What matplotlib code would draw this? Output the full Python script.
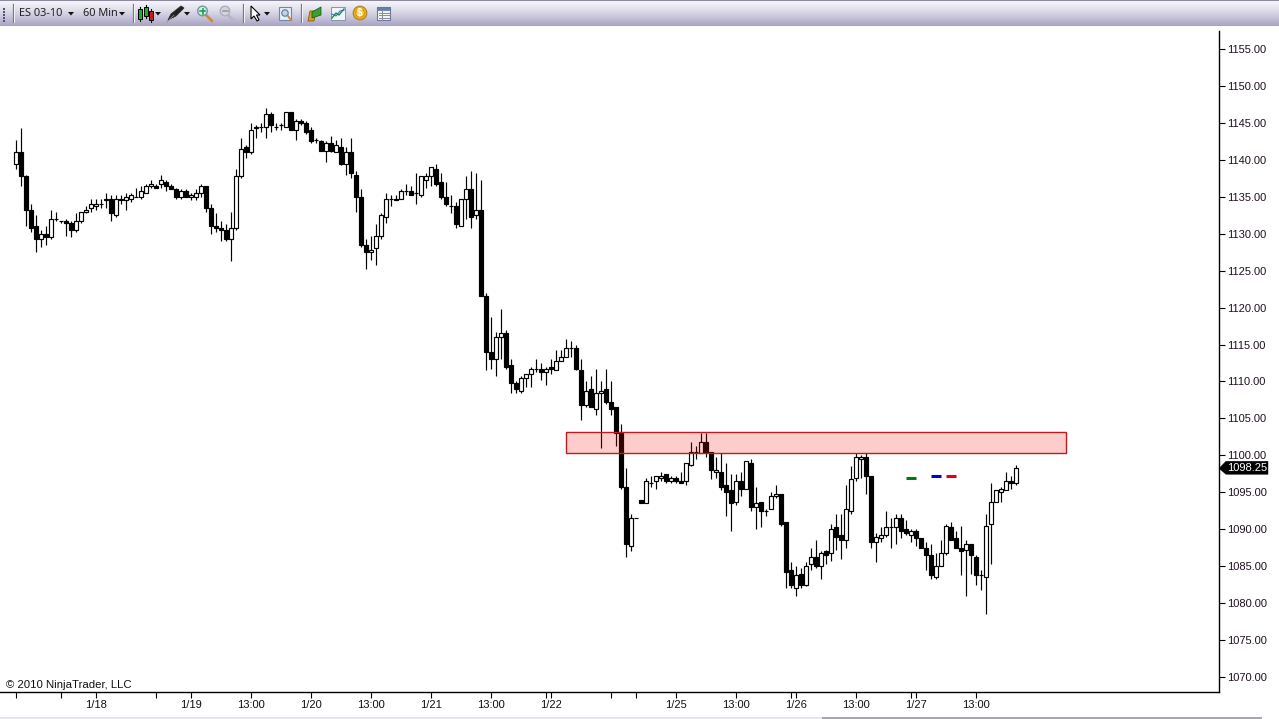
import matplotlib
matplotlib.use("Agg")
import matplotlib.pyplot as plt
import numpy as np
from matplotlib.patches import Rectangle, Polygon, Circle

plt.rcParams['font.family'] = ['Liberation Sans', 'DejaVu Sans']

opens = [
    1139.5, 1141.0, 1137.75, 1133.25, 1131.0, 1129.25, 1130.0, 1129.5, 1132.0, 1131.75,
    1131.75, 1131.5, 1130.5, 1131.75, 1133.0, 1133.5, 1133.75, 1134.0, 1134.5, 1134.75,
    1132.5, 1134.75, 1134.5, 1134.75, 1135.0, 1135.0, 1135.5, 1136.5, 1136.5, 1136.75,
    1137.0, 1136.5, 1136.0, 1135.0, 1135.75, 1135.0, 1135.0, 1135.5, 1136.5, 1133.5,
    1131.0, 1130.75, 1130.5, 1129.25, 1130.75, 1137.75, 1141.75, 1141.0, 1144.25, 1144.5,
    1144.5, 1146.25, 1144.5, 1144.75, 1144.5, 1146.5, 1144.0, 1145.25, 1145.0, 1144.0,
    1142.75, 1142.5, 1141.25, 1142.25, 1141.0, 1141.75, 1139.5, 1141.0, 1138.0, 1135.0,
    1128.5, 1127.5, 1128.0, 1129.75, 1132.25, 1134.75, 1134.75, 1134.75, 1135.75, 1135.75,
    1135.5, 1135.25, 1137.25, 1137.75, 1138.75, 1137.0, 1135.0, 1133.75, 1133.75, 1131.0,
    1134.75, 1136.0, 1132.5, 1133.25, 1121.5, 1114.0, 1113.0, 1116.0, 1116.5, 1112.25,
    1109.75, 1108.75, 1110.5, 1111.0, 1111.75, 1111.75, 1111.25, 1112.0, 1111.5, 1112.75,
    1113.25, 1114.5, 1114.5, 1111.5, 1106.75, 1109.0, 1106.25, 1108.5, 1109.0, 1107.25,
    1106.5, 1103.0, 1095.75, 1087.75, 1091.5, 1094.0, 1093.5, 1096.25, 1096.5, 1097.0,
    1097.5, 1096.5, 1097.0, 1096.5, 1096.5, 1098.75, 1100.5, 1100.25, 1101.75, 1100.5,
    1097.75, 1097.75, 1096.0, 1095.25, 1093.75, 1096.5, 1095.5, 1099.0, 1093.0, 1093.75,
    1092.5, 1092.75, 1094.5, 1094.75, 1091.0, 1084.5, 1082.0, 1084.0, 1082.5, 1085.25,
    1086.25, 1085.0, 1087.0, 1086.75, 1090.25, 1089.25, 1088.5, 1092.5, 1097.0, 1099.5,
    1099.75, 1097.25, 1088.25, 1088.75, 1089.25, 1090.25, 1090.25, 1091.5, 1090.0, 1089.25,
    1089.75, 1088.75, 1087.5, 1086.5, 1083.5, 1085.0, 1086.75, 1090.25, 1088.75, 1087.5,
    1087.25, 1088.0, 1086.25, 1083.75, 1083.5, 1090.75, 1093.75, 1095.0, 1095.25, 1096.5, 1096.25,
]
highs = [
    1142.75, 1144.25, 1138.0, 1134.0, 1132.5, 1130.5, 1131.0, 1133.25, 1133.0, 1131.75,
    1132.0, 1131.75, 1132.75, 1133.0, 1133.75, 1134.75, 1134.75, 1134.75, 1135.5, 1135.25,
    1135.25, 1135.25, 1135.5, 1135.5, 1136.25, 1136.5, 1136.75, 1137.25, 1136.75, 1138.0,
    1137.25, 1136.75, 1136.25, 1136.0, 1136.0, 1135.5, 1136.0, 1136.75, 1136.5, 1134.0,
    1132.75, 1131.75, 1131.25, 1133.0, 1138.75, 1143.0, 1142.0, 1145.0, 1144.75, 1145.0,
    1147.0, 1146.5, 1145.0, 1145.0, 1146.5, 1146.5, 1145.5, 1145.5, 1145.25, 1144.5,
    1143.0, 1142.75, 1142.5, 1143.25, 1142.75, 1143.0, 1141.75, 1143.0, 1138.5, 1136.0,
    1129.25, 1129.75, 1131.25, 1132.75, 1135.5, 1135.25, 1135.25, 1136.0, 1136.75, 1136.5,
    1138.25, 1137.75, 1138.25, 1139.0, 1139.5, 1138.25, 1137.0, 1135.25, 1134.25, 1134.75,
    1137.75, 1138.5, 1138.25, 1137.25, 1122.0, 1118.75, 1116.75, 1119.75, 1117.0, 1113.0,
    1110.0, 1110.75, 1111.0, 1112.0, 1113.0, 1112.5, 1112.0, 1113.0, 1114.25, 1114.25,
    1115.75, 1115.5, 1115.0, 1113.0, 1110.0, 1110.75, 1111.75, 1110.0, 1111.75, 1110.0,
    1106.5, 1104.25, 1098.25, 1092.0, 1091.5, 1094.0, 1097.0, 1097.25, 1097.25, 1097.75,
    1097.5, 1097.25, 1097.25, 1097.75, 1099.0, 1101.75, 1101.25, 1103.0, 1103.0, 1100.5,
    1099.75, 1100.25, 1099.0, 1097.5, 1097.5, 1097.75, 1099.25, 1099.5, 1095.75, 1093.75,
    1092.75, 1095.0, 1096.0, 1094.75, 1091.0, 1085.5, 1085.0, 1084.75, 1085.5, 1087.5,
    1088.5, 1087.0, 1087.25, 1090.75, 1092.0, 1092.0, 1096.0, 1098.5, 1100.25, 1100.0,
    1100.25, 1097.25, 1089.5, 1090.25, 1092.5, 1091.5, 1092.0, 1092.0, 1091.25, 1090.0,
    1090.0, 1088.75, 1088.25, 1088.0, 1086.75, 1088.5, 1090.75, 1091.0, 1089.75, 1090.5,
    1088.5, 1088.0, 1086.5, 1084.5, 1092.0, 1096.25, 1095.25, 1095.75, 1097.75, 1097.25, 1098.75,
]
lows = [
    1138.75, 1136.5, 1131.0, 1130.25, 1127.5, 1128.25, 1128.5, 1129.25, 1131.75, 1131.5,
    1129.75, 1129.5, 1130.25, 1131.5, 1132.75, 1133.0, 1133.25, 1133.5, 1133.5, 1131.75,
    1132.25, 1134.0, 1133.25, 1134.25, 1135.0, 1134.75, 1135.5, 1136.25, 1136.25, 1136.25,
    1135.75, 1136.0, 1134.75, 1134.75, 1135.0, 1134.5, 1134.5, 1135.0, 1133.0, 1130.0,
    1130.25, 1129.0, 1129.0, 1126.25, 1130.5, 1137.5, 1140.25, 1140.75, 1143.0, 1143.75,
    1143.0, 1143.75, 1144.0, 1144.0, 1144.5, 1144.0, 1142.75, 1144.75, 1143.5, 1142.25,
    1142.25, 1141.25, 1139.75, 1141.0, 1141.0, 1139.25, 1138.0, 1137.5, 1133.0, 1128.25,
    1125.25, 1126.5, 1125.75, 1129.25, 1131.5, 1133.75, 1134.5, 1134.75, 1135.25, 1135.25,
    1134.0, 1135.0, 1136.25, 1136.5, 1136.5, 1134.75, 1133.75, 1132.75, 1130.75, 1131.0,
    1132.0, 1130.75, 1132.0, 1121.5, 1111.5, 1111.75, 1110.75, 1113.0, 1111.75, 1108.5,
    1108.5, 1108.5, 1109.25, 1109.25, 1111.25, 1110.25, 1109.5, 1111.0, 1111.5, 1112.75,
    1113.25, 1113.25, 1111.5, 1104.75, 1106.5, 1106.5, 1105.5, 1101.0, 1107.0, 1105.5,
    1101.25, 1095.5, 1086.25, 1087.0, 1091.5, 1093.5, 1093.5, 1095.75, 1095.5, 1096.5,
    1096.25, 1096.25, 1096.25, 1096.25, 1096.0, 1098.5, 1099.5, 1100.25, 1099.75, 1096.75,
    1097.0, 1095.25, 1091.75, 1089.75, 1093.25, 1094.5, 1095.5, 1092.5, 1090.0, 1090.25,
    1091.75, 1092.75, 1094.25, 1090.5, 1082.0, 1082.0, 1081.0, 1082.0, 1082.25, 1084.5,
    1084.75, 1083.25, 1085.25, 1085.75, 1087.25, 1086.0, 1087.5, 1092.0, 1096.5, 1097.0,
    1094.75, 1087.5, 1085.5, 1088.25, 1089.0, 1087.5, 1088.0, 1088.75, 1089.25, 1088.25,
    1087.75, 1087.5, 1084.5, 1083.25, 1083.25, 1085.0, 1086.5, 1088.5, 1087.5, 1083.75,
    1081.0, 1084.0, 1082.5, 1081.75, 1078.5, 1085.25, 1093.75, 1093.75, 1095.25, 1095.5, 1096.0,
]
closes = [
    1141.0, 1137.75, 1133.25, 1130.75, 1129.25, 1130.0, 1129.5, 1132.0, 1132.0, 1131.75,
    1131.5, 1130.5, 1131.75, 1133.0, 1133.25, 1134.0, 1134.0, 1134.0, 1134.75, 1132.75,
    1134.75, 1134.5, 1135.0, 1135.25, 1135.0, 1135.75, 1136.5, 1136.75, 1136.25, 1137.25,
    1136.5, 1136.0, 1135.0, 1135.75, 1135.0, 1135.25, 1135.5, 1136.5, 1133.5, 1131.0,
    1130.75, 1130.5, 1129.25, 1130.75, 1137.75, 1141.5, 1141.0, 1144.0, 1144.5, 1144.5,
    1146.25, 1144.75, 1144.5, 1144.75, 1146.5, 1144.0, 1145.25, 1145.0, 1143.75, 1142.5,
    1142.75, 1141.25, 1142.25, 1141.25, 1142.0, 1139.5, 1141.0, 1138.25, 1135.0, 1128.5,
    1127.5, 1127.75, 1129.75, 1132.5, 1134.75, 1134.75, 1134.5, 1135.75, 1135.75, 1135.25,
    1135.5, 1137.75, 1137.75, 1139.0, 1136.75, 1135.0, 1134.0, 1133.75, 1131.25, 1134.75,
    1136.0, 1132.25, 1133.25, 1121.5, 1114.0, 1113.0, 1116.0, 1116.5, 1112.0, 1109.75,
    1109.0, 1110.5, 1111.0, 1111.75, 1111.75, 1111.25, 1111.75, 1111.75, 1112.75, 1113.25,
    1114.5, 1114.5, 1111.75, 1106.75, 1108.75, 1106.5, 1108.5, 1108.75, 1107.25, 1106.25,
    1103.0, 1095.75, 1088.0, 1091.5, 1091.5, 1093.5, 1096.5, 1096.25, 1097.25, 1097.25,
    1096.5, 1097.0, 1096.5, 1096.25, 1099.0, 1100.5, 1100.5, 1101.75, 1100.5, 1098.0,
    1098.0, 1095.75, 1095.0, 1093.5, 1096.5, 1095.5, 1099.25, 1093.0, 1093.5, 1092.5,
    1092.5, 1094.5, 1094.75, 1090.75, 1084.25, 1082.5, 1083.75, 1082.5, 1085.0, 1086.25,
    1085.0, 1086.75, 1086.5, 1090.0, 1089.0, 1088.5, 1092.75, 1096.75, 1099.75, 1099.75,
    1097.25, 1088.25, 1089.0, 1089.25, 1090.25, 1090.25, 1091.5, 1089.75, 1089.5, 1089.75,
    1088.75, 1087.5, 1086.5, 1083.75, 1085.0, 1086.75, 1090.5, 1088.5, 1087.5, 1087.0,
    1088.0, 1086.5, 1083.75, 1083.75, 1090.5, 1093.75, 1095.25, 1095.5, 1096.5, 1096.25, 1098.25,
]

x_ticks = [0, 9, 16, 28, 35, 47, 59, 71, 83, 95, 106, 107, 119, 124, 132, 144, 155, 156, 168, 179, 180, 192]
x_tick_labels = ['', '', '1/18', '', '1/19', '13:00', '1/20', '13:00', '1/21', '13:00', '', '1/22',
                 '', '', '1/25', '13:00', '', '1/26', '13:00', '', '1/27', '13:00']
y_ticks = list(range(1070, 1160, 5))

zone_start, zone_end, zone_low, zone_high = 110, 210, 1100.25, 1103.2
level_marks = [(178, 180, 1097.0, '#007a10'), (183, 185, 1097.25, '#0000d8'), (186, 188, 1097.25, '#e00010')]

W, H = 1279, 719
fig = plt.figure(figsize=(W / 100, H / 100), dpi=100, facecolor='white')

# price axes: 16px + 5px per bar, 7.388 px per point
AX_L, AX_R, AX_T, AX_B = 0, 1219, 31, 691.5
ax = fig.add_axes([AX_L / W, 1 - AX_B / H, (AX_R - AX_L) / W, (AX_B - AX_T) / H])
ax.set_xlim((AX_L - 16) / 5, (AX_R - 16) / 5)
ax.set_ylim(1155 - (AX_B - 49) / 7.388, 1155 + (49 - AX_T) / 7.388)

o = np.array(opens); c = np.array(closes); h = np.array(highs); l = np.array(lows)
xs = np.arange(len(o))
LW = 0.85
ax.vlines(xs, l, h, color='black', lw=LW, zorder=2, snap=True)
up = c >= o
ax.bar(xs[up], (c - o)[up], bottom=o[up], width=0.72, facecolor='white', edgecolor='black', linewidth=LW, zorder=3)
ax.bar(xs[~up], (o - c)[~up], bottom=c[~up], width=0.8, facecolor='black', edgecolor='black', linewidth=LW, zorder=3)

ax.add_patch(Rectangle((zone_start, zone_low), zone_end - zone_start, zone_high - zone_low,
                       facecolor=(1, 0, 0, 0.2), edgecolor='#bc1c1c', linewidth=1.0, zorder=4))
for x0, x1, y, col in level_marks:
    ax.plot([x0, x1], [y, y], color=col, lw=2.2, solid_capstyle='butt', zorder=5)

for s in ('top', 'left'):
    ax.spines[s].set_visible(False)
for s in ('right', 'bottom'):
    ax.spines[s].set_linewidth(1.0)
ax.yaxis.tick_right()
ax.set_yticks(y_ticks)
ax.set_yticklabels([f'{v:.2f}' for v in y_ticks], fontsize=8.0, color='#201020')
ax.tick_params(axis='y', length=4.0, width=0.8, pad=1.6)
ax.set_xticks(x_ticks)
ax.set_xticklabels(x_tick_labels, fontsize=8.0, color='#101010')
ax.tick_params(axis='x', length=4.0, width=0.8, pad=2.4)
ax.text(6 / 1219, (AX_B - 685) / (AX_B - AX_T), '\u00a9 2010 NinjaTrader, LLC', transform=ax.transAxes,
        fontsize=8.2, va='center', ha='left', color='#101010')

# window chrome in pixel coordinates
ch = fig.add_axes([0, 0, 1, 1], zorder=10)
ch.set_xlim(0, W); ch.set_ylim(H, 0); ch.axis('off'); ch.patch.set_alpha(0)

grad = np.linspace(0, 1, 26)[:, None, None]
top = np.array([0.96, 0.96, 0.98]); bot = np.array([0.66, 0.64, 0.77])
img = top + (bot - top) * grad ** 1.3
img[0:1] = np.array([0.55, 0.54, 0.62])
ch.imshow(img, extent=(0, W, 26, 0), aspect='auto', interpolation='nearest', zorder=1)
ch.set_xlim(0, W); ch.set_ylim(H, 0)
ch.add_patch(Rectangle((0, 717), 822, 2, color='#e6e6ee', lw=0, zorder=1))
ch.add_patch(Rectangle((822, 717), 440, 2, color='#a8a8b0', lw=0, zorder=1))

for yy in (8, 11, 14, 17, 20):
    ch.add_patch(Rectangle((3, yy), 2, 2, color='#55556a', lw=0, zorder=2))
for xx in (13, 133, 243, 301):
    ch.plot([xx, xx], [4, 22], color='#777788', lw=0.9, zorder=2)
    ch.plot([xx + 1, xx + 1], [4, 22], color='#f4f4f8', lw=0.7, zorder=2)
ch.text(19, 13.5, 'ES 03-10', fontsize=7.9, color='#202020', va='center', ha='left', family=['Noto Sans', 'DejaVu Sans'], zorder=3)
ch.text(83, 13.5, '60 Min', fontsize=7.9, color='#202020', va='center', ha='left', family=['Noto Sans', 'DejaVu Sans'], zorder=3)
for ax_x in (71, 122, 158, 187, 267):
    ch.add_patch(Polygon([(ax_x - 3, 12), (ax_x + 3, 12), (ax_x, 15.5)], color='#101010', lw=0, zorder=3))
# candle icon
for xx, y0, y1, col in ((140, 9, 19, '#18b030'), (145.5, 7, 16, '#18b030'), (151, 11, 20, '#c81820')):
    ch.plot([xx, xx], [y0 - 2, y1 + 2], color='black', lw=0.8, zorder=3)
    ch.add_patch(Rectangle((xx - 2, y0), 4, y1 - y0, facecolor=col, edgecolor='black', lw=0.7, zorder=4))
# pen icon
ch.add_patch(Polygon([(168, 20), (171, 14), (181, 6), (184, 8), (176, 16), (170, 19)], facecolor='#202020', edgecolor='#303030', lw=0.6, zorder=3))
ch.plot([167, 174], [22, 15], color='#888888', lw=0.6, zorder=4)
# magnifiers
ch.plot([206, 212], [15, 21], color='#d08a40', lw=2, zorder=3, solid_capstyle='round')
ch.add_patch(Circle((202.5, 11), 4.8, facecolor='#d8eef0', edgecolor='#6a98a8', lw=1, zorder=4))
ch.plot([200, 205], [11, 11], color='#20a040', lw=1.2, zorder=5)
ch.plot([202.5, 202.5], [8.5, 13.5], color='#20a040', lw=1.2, zorder=5)
ch.plot([228, 234], [15, 21], color='#b8b6c4', lw=2, zorder=3, solid_capstyle='round')
ch.add_patch(Circle((225, 11), 4.8, facecolor='#d4d4dc', edgecolor='#aeaebc', lw=1, zorder=4))
ch.plot([222.5, 227.5], [11, 11], color='#9a9aa6', lw=1.2, zorder=5)
# pointer
ch.add_patch(Polygon([(251, 6), (251, 19), (254, 16), (257, 21), (259, 20), (256.5, 15), (260, 15)], facecolor='white', edgecolor='black', lw=0.8, zorder=3))
# select box
ch.add_patch(Rectangle((279, 7), 12, 13, facecolor='#e6eef6', edgecolor='#6a8aa8', lw=0.8, zorder=3))
ch.add_patch(Circle((285, 13), 3.2, facecolor='#c0d4e4', edgecolor='#5a7a98', lw=0.8, zorder=4))
ch.plot([288, 291], [16, 20], color='#d88040', lw=1.4, zorder=5)
# folder icon
ch.add_patch(Polygon([(308, 21), (310, 11), (316, 11), (314, 21)], facecolor='#d8a020', edgecolor='#806010', lw=0.6, zorder=3))
ch.add_patch(Polygon([(312, 12), (321, 7), (321, 15), (312, 18)], facecolor='#38a030', edgecolor='#206020', lw=0.6, zorder=4))
# chart icon
ch.add_patch(Rectangle((331, 7), 14, 13, facecolor='#f0f4f8', edgecolor='#8098a8', lw=0.7, zorder=3))
ch.plot([332, 336, 339, 344], [18, 13, 15, 9], color='#209040', lw=1, zorder=4)
ch.plot([332, 336, 340, 344], [14, 16, 11, 10], color='#3060c0', lw=0.7, zorder=4)
# coin icon
ch.add_patch(Circle((360, 13), 6.8, facecolor='#e8b020', edgecolor='#b88010', lw=0.8, zorder=3))
ch.add_patch(Circle((360, 13), 4.2, facecolor='#f4cc50', edgecolor='#c89018', lw=0.5, zorder=4))
ch.text(360, 13.2, '$', fontsize=7, color='#ffffff', ha='center', va='center', fontweight='bold', zorder=5)
# table icon
ch.add_patch(Rectangle((377, 7), 13, 13, facecolor='#f4f4f6', edgecolor='#6a7a98', lw=0.8, zorder=3))
ch.add_patch(Rectangle((377, 7), 13, 3, facecolor='#5a80b8', edgecolor='#6a7a98', lw=0.5, zorder=4))
for yy in (12.5, 15, 17.5):
    ch.plot([378.5, 388.5], [yy, yy], color='#8a8a9a', lw=0.7, zorder=4)
ch.plot([382, 382], [10, 20], color='#8a8a9a', lw=0.7, zorder=4)

# last-price tag
fig.canvas.draw()
ypx = H - ax.transData.transform((0, closes[-1]))[1]
ch.add_patch(Polygon([(1219, ypx + 0.2), (1226, ypx - 7), (1268, ypx - 7), (1268, ypx + 6), (1226, ypx + 6)],
                     facecolor='black', edgecolor='black', lw=0.3, zorder=6))
ch.text(1227.5, ypx - 0.3, f'{closes[-1]:.2f}', fontsize=8.0, color='white', va='center', ha='left', zorder=7)

fig.savefig('out.png', dpi=100, facecolor='white')
